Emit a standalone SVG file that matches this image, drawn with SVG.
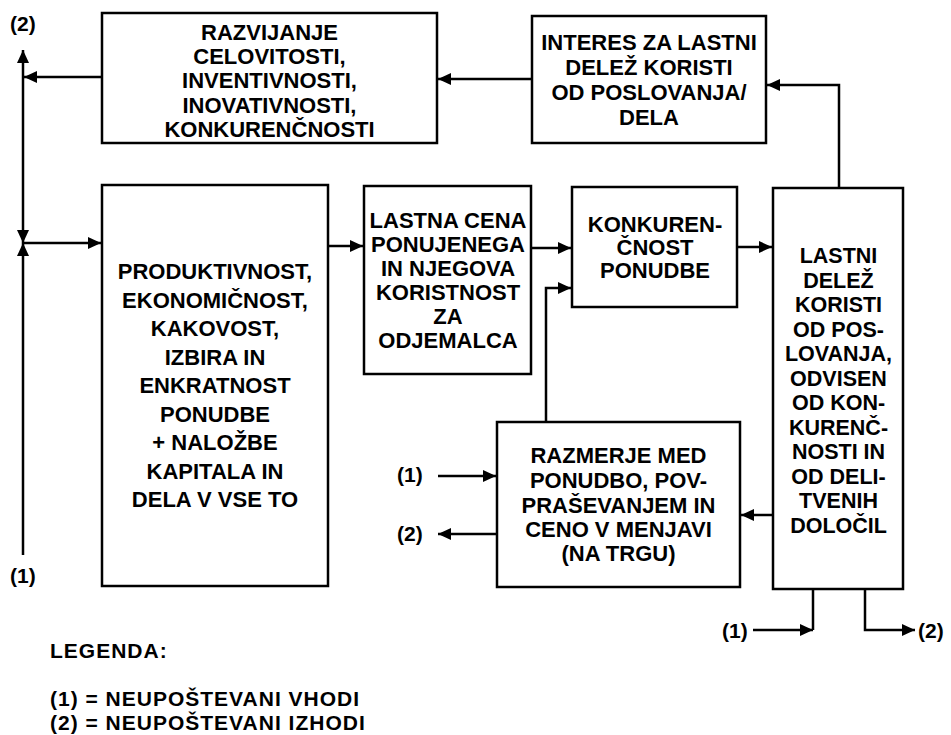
<svg xmlns="http://www.w3.org/2000/svg" width="951" height="735" viewBox="0 0 951 735">
<style>
  .box { fill: #ffffff; stroke: #000000; stroke-width: 2.5; }
  .t { font-family: "Liberation Sans", Arial, sans-serif; font-size: 22px; font-weight: bold; fill: #000000; text-anchor: middle; }
  .t6 { font-size: 21.5px; }
  .l { font-family: "Liberation Sans", Arial, sans-serif; font-size: 21px; font-weight: bold; fill: #000000; }
  .leg { letter-spacing: 1px; }
  .c { fill: none; stroke: #000000; stroke-width: 2.5; }
  .a { marker-end: url(#ah); }
</style>
<defs>
  <marker id="ah" markerUnits="userSpaceOnUse" markerWidth="14" markerHeight="12" refX="13" refY="6" orient="auto">
    <path d="M0,0 L13,6 L0,12 z" fill="#000000"/>
  </marker>
</defs>
<rect width="951" height="735" fill="#ffffff"/>

<g id="connectors">
  <path class="c a" d="M532,79 H438"/>
  <path class="c a" d="M839,188 V85 H767"/>
  <path class="c a" d="M102,77 H24"/>
  <path class="c a" d="M23,77 V50"/>
  <path class="c a" d="M23,77 V243"/>
  <path class="c a" d="M23,555 V243"/>
  <path class="c a" d="M23,243 H101"/>
  <path class="c a" d="M328,246 H363"/>
  <path class="c a" d="M531,248 H571"/>
  <path class="c a" d="M546,422 V288 H571"/>
  <path class="c a" d="M737,247 H772"/>
  <path class="c a" d="M773,515 H741"/>
  <path class="c a" d="M438,476 H496"/>
  <path class="c a" d="M497,534 H438"/>
  <path class="c" d="M813,589 V630"/>
  <path class="c a" d="M753,630 H813"/>
  <path class="c a" d="M865,589 V630 H915"/>
</g>

<g id="n1">
  <rect class="box" x="102" y="13" width="335" height="130"/>
  <text class="t"><tspan x="269.5" y="40">RAZVIJANJE</tspan><tspan x="269.5" y="64.2">CELOVITOSTI,</tspan><tspan x="269.5" y="88.4">INVENTIVNOSTI,</tspan><tspan x="269.5" y="112.6">INOVATIVNOSTI,</tspan><tspan x="269.5" y="136.8">KONKURENČNOSTI</tspan></text>
</g>

<g id="n2">
  <rect class="box" x="532" y="16" width="234" height="127"/>
  <text class="t"><tspan x="649" y="50">INTERES ZA LASTNI</tspan><tspan x="649" y="75">DELEŽ KORISTI</tspan><tspan x="649" y="100">OD POSLOVANJA/</tspan><tspan x="649" y="125">DELA</tspan></text>
</g>

<g id="n3">
  <rect class="box" x="102" y="185" width="226" height="401"/>
  <text class="t"><tspan x="215" y="279">PRODUKTIVNOST,</tspan><tspan x="215" y="307.5">EKONOMIČNOST,</tspan><tspan x="215" y="336">KAKOVOST,</tspan><tspan x="215" y="364.5">IZBIRA IN</tspan><tspan x="215" y="393">ENKRATNOST</tspan><tspan x="215" y="421.5">PONUDBE</tspan><tspan x="215" y="450">+ NALOŽBE</tspan><tspan x="215" y="478.5">KAPITALA IN</tspan><tspan x="215" y="507">DELA V VSE TO</tspan></text>
</g>

<g id="n4">
  <rect class="box" x="364" y="186" width="167" height="188"/>
  <text class="t"><tspan x="448" y="228">LASTNA CENA</tspan><tspan x="448" y="252">PONUJENEGA</tspan><tspan x="448" y="275.5">IN NJEGOVA</tspan><tspan x="448" y="299.5">KORISTNOST</tspan><tspan x="448" y="323.5">ZA</tspan><tspan x="448" y="348">ODJEMALCA</tspan></text>
</g>

<g id="n5">
  <rect class="box" x="572" y="187" width="165" height="120"/>
  <text class="t"><tspan x="655" y="232">KONKUREN-</tspan><tspan x="655" y="255">ČNOST</tspan><tspan x="655" y="278">PONUDBE</tspan></text>
</g>

<g id="n6">
  <rect class="box" x="773" y="188" width="130" height="401"/>
  <text class="t t6"><tspan x="838.5" y="263">LASTNI</tspan><tspan x="838.5" y="287.5">DELEŽ</tspan><tspan x="838.5" y="312">KORISTI</tspan><tspan x="838.5" y="336.5">OD POS-</tspan><tspan x="838.5" y="361">LOVANJA,</tspan><tspan x="838.5" y="385.5">ODVISEN</tspan><tspan x="838.5" y="410">OD KON-</tspan><tspan x="838.5" y="434.5">KURENČ-</tspan><tspan x="838.5" y="459">NOSTI IN</tspan><tspan x="838.5" y="483.5">OD DELI-</tspan><tspan x="838.5" y="508">TVENIH</tspan><tspan x="838.5" y="532.5">DOLOČIL</tspan></text>
</g>

<g id="n7">
  <rect class="box" x="497" y="422" width="243" height="165"/>
  <text class="t"><tspan x="618.5" y="463">RAZMERJE MED</tspan><tspan x="618.5" y="488">PONUDBO, POV-</tspan><tspan x="618.5" y="512.5">PRAŠEVANJEM IN</tspan><tspan x="618.5" y="537">CENO V MENJAVI</tspan><tspan x="618.5" y="561">(NA TRGU)</tspan></text>
</g>

<g id="labels">
  <text class="l" x="10" y="31">(2)</text>
  <text class="l" x="10" y="583">(1)</text>
  <text class="l" x="397" y="482">(1)</text>
  <text class="l" x="397" y="541">(2)</text>
  <text class="l" x="722" y="638">(1)</text>
  <text class="l" x="918" y="638">(2)</text>
</g>

<g id="legend">
  <text class="l leg" x="50" y="658">LEGENDA:</text>
  <text class="l leg" x="50" y="706">(1) = NEUPOŠTEVANI VHODI</text>
  <text class="l leg" x="50" y="730">(2) = NEUPOŠTEVANI IZHODI</text>
</g>
</svg>
